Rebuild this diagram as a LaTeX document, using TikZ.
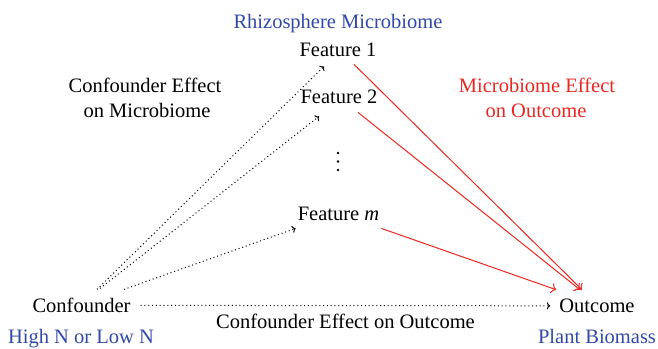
\documentclass[tikz,border=0pt]{standalone}
\usepackage{fontspec}
\setmainfont{Liberation Serif}
\usetikzlibrary{arrows.meta}
\definecolor{labelblue}{RGB}{48,72,168}
\definecolor{effectred}{RGB}{232,40,32}
\tikzset{
  lbl/.style={inner sep=0pt, anchor=base, font=\fontsize{20.5}{24}\selectfont},
  bluelbl/.style={lbl, text=labelblue},
  redlbl/.style={lbl, text=effectred},
  vdot/.style={circle, fill=black, inner sep=0pt, minimum size=2.6pt},
  dotarrow/.style={line width=1pt, dash pattern=on 1pt off 2.8pt, -{To[scale=0.9]}},
  redarrow/.style={line width=1pt, draw=effectred, -{To[scale=1.3]}}
}
\begin{document}
\begin{tikzpicture}[x=1pt,y=-1pt]
\useasboundingbox (0,0) rectangle (658,348);

% microbiome features
\node[bluelbl] (rhizo) at (338,28) {Rhizosphere Microbiome};
\node[lbl] (f1) at (338,56) {Feature 1};
\node[lbl] (f2) at (339,103) {Feature 2};
\node[vdot] (vdA) at (338,153) {};
\node[vdot] (vdB) at (338,161.5) {};
\node[vdot] (vdC) at (338,170) {};
\node[lbl] (fm) at (338.5,220) {Feature \textit{m}};

% confounder and outcome
\node[lbl] (conf) at (81.5,312.5) {Confounder};
\node[bluelbl] (confsub) at (81,343) {High N or Low N};
\node[lbl] (out) at (597,312.5) {Outcome};
\node[bluelbl] (outsub) at (597,343) {Plant Biomass};

% effect captions
\node[lbl] (cemA) at (145,92) {Confounder Effect};
\node[lbl] (cemB) at (147,117) {on Microbiome};
\node[redlbl] (meoA) at (537,92) {Microbiome Effect};
\node[redlbl] (meoB) at (536,117) {on Outcome};
\node[lbl] (ceo) at (345.5,328) {Confounder Effect on Outcome};

% confounder effects (dotted)
\draw[dotarrow] ([xshift=15.5pt,yshift=8.5pt]conf.north) -- ([xshift=-14pt,yshift=-10pt]f1.south);
\draw[dotarrow] ([xshift=18.5pt,yshift=9.5pt]conf.north) -- ([xshift=-20pt,yshift=-13pt]f2.south);
\draw[dotarrow] ([xshift=42.5pt,yshift=8.5pt]conf.north) -- ([xshift=-2pt,yshift=-8pt]fm.south west);
\draw[dotarrow, shorten <=10pt, shorten >=9pt] (conf.east) -- (out.west);

% microbiome effects (red)
\draw[redarrow] ([xshift=16pt,yshift=-8pt]f1.south) -- ([xshift=-15pt,yshift=9pt]out.north);
\draw[redarrow] ([xshift=19pt,yshift=-9pt]f2.south) -- ([xshift=-17pt,yshift=9pt]out.north);
\draw[redarrow] ([xshift=2pt,yshift=-8pt]fm.south east) -- ([xshift=-3pt,yshift=9pt]out.north west);
\end{tikzpicture}
\end{document}
